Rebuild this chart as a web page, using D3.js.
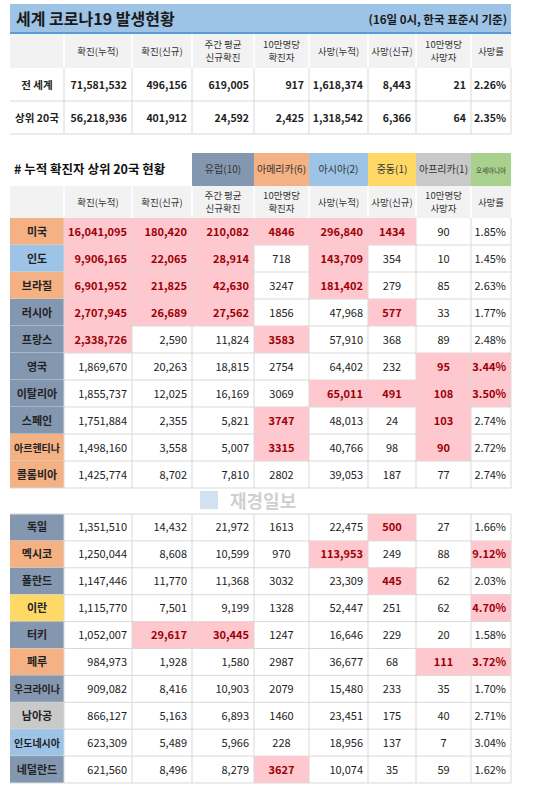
<!DOCTYPE html>
<html><head><meta charset="utf-8">
<script src="https://cdn.jsdelivr.net/npm/d3@7"></script>
<style>body{margin:0;background:#fff}svg{display:block}text{font-family:"Noto Sans CJK KR","Noto Sans",sans-serif}</style>
</head><body>
<script>
const title = "세계 코로나19 발생현황";
const subtitle = "(16일 0시, 한국 표준시 기준)";
const section2 = "# 누적 확진자 상위 20국 현황";
const headers = [["확진(누적)"],["확진(신규)"],["주간 평균","신규확진"],["10만명당","확진자"],["사망(누적)"],["사망(신규)"],["10만명당","사망자"],["사망률"]];
const summaryNames = ["전 세계","상위 20국"];
const summaryValues = [
 ["71,581,532","496,156","619,005","917","1,618,374","8,443","21","2.26%"],
 ["56,218,936","401,912","24,592","2,425","1,318,542","6,366","64","2.35%"]];
const regions = ["유럽(10)","아메리카(6)","아시아(2)","중동(1)","아프리카(1)","오세아니아"];
const regionColors = ["#8497B0","#F4B183","#9DC3E6","#FFD966","#C9C9C9","#A9D18E"];
const countries = ["미국","인도","브라질","러시아","프랑스","영국","이탈리아","스페인","아르헨티나","콜롬비아","독일","멕시코","폴란드","이란","터키","페루","우크라이나","남아공","인도네시아","네덜란드"];
const countryRegion = [1,2,1,0,0,0,0,0,1,1,0,1,0,3,0,1,0,4,2,0];
const values = [
 ["16,041,095","180,420","210,082","4846","296,840","1434","90","1.85%"],
 ["9,906,165","22,065","28,914","718","143,709","354","10","1.45%"],
 ["6,901,952","21,825","42,630","3247","181,402","279","85","2.63%"],
 ["2,707,945","26,689","27,562","1856","47,968","577","33","1.77%"],
 ["2,338,726","2,590","11,824","3583","57,910","368","89","2.48%"],
 ["1,869,670","20,263","18,815","2754","64,402","232","95","3.44%"],
 ["1,855,737","12,025","16,169","3069","65,011","491","108","3.50%"],
 ["1,751,884","2,355","5,821","3747","48,013","24","103","2.74%"],
 ["1,498,160","3,558","5,007","3315","40,766","98","90","2.72%"],
 ["1,425,774","8,702","7,810","2802","39,053","187","77","2.74%"],
 ["1,351,510","14,432","21,972","1613","22,475","500","27","1.66%"],
 ["1,250,044","8,608","10,599","970","113,953","249","88","9.12%"],
 ["1,147,446","11,770","11,368","3032","23,309","445","62","2.03%"],
 ["1,115,770","7,501","9,199","1328","52,447","251","62","4.70%"],
 ["1,052,007","29,617","30,445","1247","16,646","229","20","1.58%"],
 ["984,973","1,928","1,580","2987","36,677","68","111","3.72%"],
 ["909,082","8,416","10,903","2079","15,480","233","35","1.70%"],
 ["866,127","5,163","6,893","1460","23,451","175","40","2.71%"],
 ["623,309","5,489","5,966","228","18,956","137","7","3.04%"],
 ["621,560","8,496","8,279","3627","10,074","35","59","1.62%"]];
const highlights = [[0,1,2,3,4,5],[0,1,2,4],[0,1,2,4],[0,1,2,5],[0,3],[6,7],[4,5,6,7],[3,6],[3,6],[],[5],[4,7],[5],[7],[1,2],[6,7],[],[],[],[3]];
const watermark = "재경일보";

const W=548,H=788;
const svg=d3.select("body").append("svg").attr("width",W).attr("height",H);
const edges=[10,64,132,192,254,309,368,416,471,511];
const colX=d3.scaleOrdinal().domain(d3.range(9)).range(edges.slice(0,9));
const colW=i=>edges[i+1]-edges[i];
const grid="#D9D9D9", txt="#222", hiBg="#FFC7CE", hiTx="#9C0006";

svg.append("rect").attr("x",10).attr("y",4).attr("width",501).attr("height",29).attr("fill","#9DC3E6");
svg.append("rect").attr("x",10).attr("y",32).attr("width",501).attr("height",2).attr("fill","#5B9BD5");
svg.append("text").attr("x",16).attr("y",25).attr("font-size",16).attr("font-weight","bold").attr("fill","#1a1a1a").text(title);
svg.append("text").attr("x",507).attr("y",24).attr("text-anchor","end").attr("font-size",11.5).attr("font-weight","bold").attr("fill","#1a1a1a").text(subtitle);

function header(y0,h){
  svg.append("rect").attr("x",10).attr("y",y0).attr("width",501).attr("height",h).attr("fill","#F2F2F2");
  headers.forEach((lines,i)=>{
    const cx=colX(i+1)+colW(i+1)/2;
    lines.forEach((l,k)=>svg.append("text").attr("x",cx).attr("y",y0+h/2+3.5+(k-(lines.length-1)/2)*12.5)
      .attr("text-anchor","middle").attr("font-size",9.5).attr("fill","#333").text(l));
  });
  d3.range(1,9).forEach(i=>svg.append("line").attr("x1",colX(i)).attr("x2",colX(i)).attr("y1",y0).attr("y2",y0+h).attr("stroke","#fff").attr("stroke-width",1.5));
}
function vlines(y0,y1){
  d3.range(1,10).forEach(i=>svg.append("line").attr("x1",edges[i]).attr("x2",edges[i]).attr("y1",y0).attr("y2",y1).attr("stroke",grid));
}
header(34,34);
const yS=d3.scaleLinear().domain([0,1]).range([68,101]);
summaryNames.forEach((n,r)=>{
  const y=yS(r),h=yS(r+1)-yS(r);
  svg.append("line").attr("x1",10).attr("x2",511).attr("y1",y+h).attr("y2",y+h).attr("stroke",grid);
  svg.append("text").attr("x",37).attr("y",y+h/2+4).attr("text-anchor","middle").attr("font-size",10.5).attr("font-weight","bold").attr("fill",txt).text(n);
  summaryValues[r].forEach((v,i)=>svg.append("text").attr("x",edges[i+2]-5).attr("y",y+h/2+4).attr("text-anchor","end").attr("font-size",10.5).attr("font-weight","bold").attr("fill",txt).text(v));
});
vlines(68,134);

svg.append("text").attr("x",14).attr("y",174).attr("font-size",12.5).attr("font-weight","bold").attr("fill","#111").text(section2);
regions.forEach((r,i)=>{
  svg.append("rect").attr("x",colX(i+3)).attr("y",153).attr("width",colW(i+3)).attr("height",33).attr("fill",regionColors[i]);
  svg.append("text").attr("x",colX(i+3)+colW(i+3)/2).attr("y",173).attr("text-anchor","middle").attr("font-size",i==5?6.5:10).attr("fill","#333").text(r);
});
header(186,32);

const yA=d3.scaleLinear().domain([0,10]).range([218,488]);
const yB=d3.scaleLinear().domain([10,20]).range([514,783]);
countries.forEach((c,r)=>{
  const sc=r<10?yA:yB, y=sc(r), h=sc(r+1)-sc(r);
  svg.append("rect").attr("x",10).attr("y",y).attr("width",54).attr("height",h).attr("fill",regionColors[countryRegion[r]]);
  highlights[r].forEach(i=>svg.append("rect").attr("x",colX(i+1)).attr("y",y).attr("width",colW(i+1)).attr("height",h).attr("fill",hiBg));
  svg.append("line").attr("x1",10).attr("x2",511).attr("y1",y+h).attr("y2",y+h).attr("stroke",grid);
  svg.append("text").attr("x",37).attr("y",y+h/2+4).attr("text-anchor","middle").attr("font-size",c.length>=5?10:11).attr("font-weight","bold").attr("fill",txt).text(c);
  values[r].forEach((v,i)=>{
    const hi=highlights[r].includes(i), centered=[3,5,6].includes(i);
    svg.append("text").attr("x",centered?colX(i+1)+colW(i+1)/2:edges[i+2]-5).attr("y",y+h/2+4)
      .attr("text-anchor",centered?"middle":"end").attr("font-size",11).attr("font-weight",hi?"bold":"normal")
      .attr("fill",hi?hiTx:txt).text(v);
  });
});
svg.append("line").attr("x1",10).attr("x2",511).attr("y1",514).attr("y2",514).attr("stroke",grid);
vlines(218,488); vlines(514,783);
svg.append("rect").attr("x",200).attr("y",491).attr("width",18).attr("height",18).attr("fill","#C5D9EE").attr("opacity",0.8);
svg.append("text").attr("x",230).attr("y",508).attr("font-size",18).attr("font-weight","bold").attr("fill","#D0D0D0").text(watermark);
</script>
</body></html>
